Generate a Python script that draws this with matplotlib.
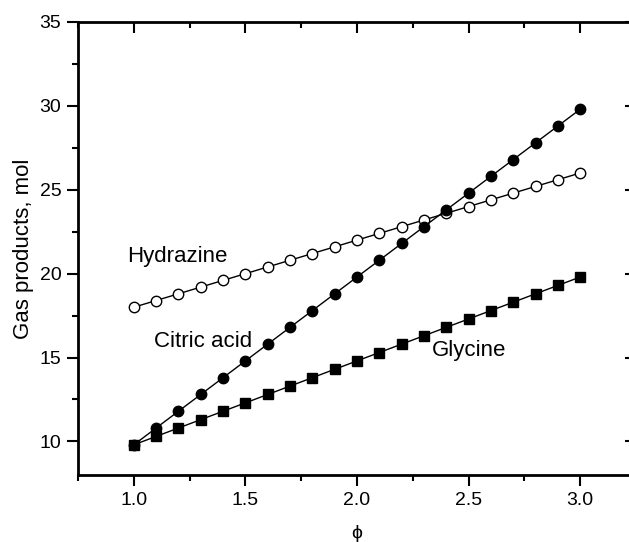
import matplotlib
matplotlib.use("Agg")
import matplotlib.pyplot as plt
from matplotlib.ticker import MultipleLocator

plt.rcParams["font.family"] = ["Liberation Sans", "DejaVu Sans"]

# data
phi = [1.0, 1.1, 1.2, 1.3, 1.4, 1.5, 1.6, 1.7, 1.8, 1.9, 2.0,
       2.1, 2.2, 2.3, 2.4, 2.5, 2.6, 2.7, 2.8, 2.9, 3.0]
citric_acid = [9.8, 10.8, 11.8, 12.8, 13.8, 14.8, 15.8, 16.8, 17.8, 18.8, 19.8,
               20.8, 21.8, 22.8, 23.8, 24.8, 25.8, 26.8, 27.8, 28.8, 29.8]
hydrazine = [18.0, 18.4, 18.8, 19.2, 19.6, 20.0, 20.4, 20.8, 21.2, 21.6, 22.0,
             22.4, 22.8, 23.2, 23.6, 24.0, 24.4, 24.8, 25.2, 25.6, 26.0]
glycine = [9.8, 10.3, 10.8, 11.3, 11.8, 12.3, 12.8, 13.3, 13.8, 14.3, 14.8,
           15.3, 15.8, 16.3, 16.8, 17.3, 17.8, 18.3, 18.8, 19.3, 19.8]

W, H = 629, 542
fig = plt.figure(figsize=(W / 100, H / 100), dpi=100)
pos = [78 / W, 1 - 475 / H, (636 - 78) / W, (475 - 22) / H]
ax = fig.add_axes(pos)

ax.plot(phi, hydrazine, "-o", color="black", lw=1, ms=7.5,
        mfc="white", mec="black", mew=1.0)
ax.plot(phi, citric_acid, "-o", color="black", lw=1, ms=7.5)
ax.plot(phi, glycine, "-s", color="black", lw=1, ms=6.5)

ax.text(0.97, 21.0, "Hydrazine", fontsize=16, va="center")
ax.text(1.09, 15.95, "Citric acid", fontsize=16, va="center")
ax.text(2.335, 15.4, "Glycine", fontsize=16, va="center")

ax.set_xlim(0.75, 3.25)
ax.set_ylim(8, 35)
ax.xaxis.set_major_locator(MultipleLocator(0.5))
ax.xaxis.set_minor_locator(MultipleLocator(0.25))
ax.yaxis.set_major_locator(MultipleLocator(5))
ax.yaxis.set_minor_locator(MultipleLocator(2.5))
ax.xaxis.set_major_formatter(plt.FormatStrFormatter("%.1f"))
for s in ax.spines.values():
    s.set_linewidth(2)
    s.set_color("black")

# ticks out on bottom/left, mirrored ones point inward on top/right
ax.tick_params(which="both", width=1.5, labelsize=14, pad=12,
               top=True, right=True, direction="in")
ax.tick_params(which="major", length=8)
ax.tick_params(which="minor", length=4)
for t in ax.xaxis.get_major_ticks() + ax.xaxis.get_minor_ticks():
    t.tick1line.set_marker(3)   # bottom: downward
for t in ax.yaxis.get_major_ticks() + ax.yaxis.get_minor_ticks():
    t.tick1line.set_marker(0)   # left: leftward

ax.set_ylabel("Gas products, mol", fontsize=16, labelpad=4)
ax.set_xlabel("ϕ", fontsize=14, labelpad=12)

fig.savefig("out.png", dpi=100)
